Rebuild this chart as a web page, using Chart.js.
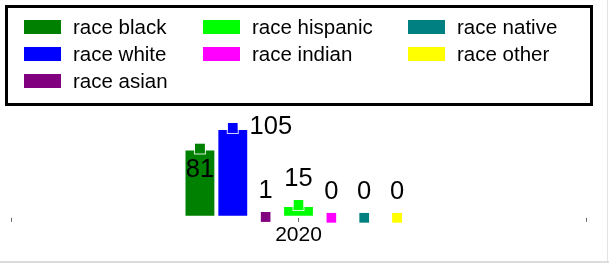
<!DOCTYPE html>
<html>
<head>
<meta charset="utf-8">
<script src="https://cdn.jsdelivr.net/npm/chart.js@4"></script>
<style>
  html, body { margin: 0; padding: 0; background: #fff; }
  #wrap { position: relative; width: 609px; height: 263px; overflow: hidden; font-family: "Liberation Sans", Arial, sans-serif; }
  #wrap canvas { position: absolute; left: 0; top: 0; }
  #legend {
    position: absolute; left: 5px; top: 5px; width: 588px; height: 101px;
    box-sizing: border-box; border: 3px solid #000;
    padding: 6px 0 0 16px;
    display: grid;
    grid-template-rows: repeat(3, 26.8px);
    grid-template-columns: 179px 205px auto;
  }
  .item { display: flex; align-items: center; font-size: 20.5px; color: #000; white-space: nowrap; }
  .swatch { width: 37px; height: 14px; margin-right: 12px; box-sizing: border-box; }
  #edgeR { position: absolute; left: 607px; top: 0; width: 1px; height: 263px; background: #e4e4e4; }
  #edgeB { position: absolute; left: 0; top: 261px; width: 609px; height: 2px; background: #dcdcdc; }
</style>
</head>
<body>
<div id="wrap">
  <canvas id="chart1" width="609" height="263"></canvas>
  <div id="legend"></div>
  <div id="edgeR"></div>
  <div id="edgeB"></div>
</div>
<script>
// data
var years = ['2020'];
var race_names = ['race black', 'race white', 'race asian', 'race hispanic', 'race indian', 'race native', 'race other'];
var race_counts = [81, 105, 1, 15, 0, 0, 0];
var race_colors = ['#008000', '#0000ff', '#800080', '#00ff00', '#ff00ff', '#008080', '#ffff00'];

var datasets = [];
for (var i = 0; i < race_names.length; i++) {
	datasets.push({
		label: race_names[i],
		data: [race_counts[i]],
		backgroundColor: race_colors[i],
		borderColor: '#ffffff',
		borderWidth: 2,
		borderSkipped: false,
		barPercentage: 1,
		categoryPercentage: 0.4
	});
}

// where each value label goes, relative to its bar top
var labelShift = {0: [0, 19], 1: [38, -2.5]};

var markersAndLabels = {
	id: 'markersAndLabels',
	afterDatasetsDraw: function(chart) {
		var ctx = chart.ctx;
		ctx.save();
		chart.data.datasets.forEach(function(ds, di) {
			var meta = chart.getDatasetMeta(di);
			meta.data.forEach(function(bar, j) {
				// square marker on the value
				ctx.fillStyle = ds.backgroundColor;
				ctx.fillRect(bar.x - 5, bar.y - 5, 10, 10);
				ctx.strokeStyle = 'rgba(255,255,255,0.85)';
				ctx.lineWidth = 1;
				ctx.strokeRect(bar.x - 5.5, bar.y - 5.5, 11, 11);
				// value label
				var s = labelShift[di] || [0, -28];
				ctx.fillStyle = '#000';
				ctx.font = '25.5px "Liberation Sans", Arial, sans-serif';
				ctx.textAlign = 'center';
				ctx.textBaseline = 'alphabetic';
				ctx.fillText(String(ds.data[j]), bar.x + s[0], bar.y + s[1] + 9);
			});
		});
		ctx.restore();
	},
	afterDraw: function(chart) {
		// small ticks at both ends of the x axis
		var ctx = chart.ctx, a = chart.chartArea;
		ctx.save();
		ctx.strokeStyle = '#666';
		ctx.lineWidth = 1;
		[a.left, a.right].forEach(function(x) {
			ctx.beginPath();
			ctx.moveTo(Math.round(x) + 0.5, a.bottom);
			ctx.lineTo(Math.round(x) + 0.5, a.bottom + 4);
			ctx.stroke();
		});
		ctx.restore();
	}
};

var ctx = document.getElementById('chart1');
var myChart = new Chart(ctx, {
	type: 'bar',
	data: {
		labels: years,
		datasets: datasets
	},
	options: {
		responsive: false,
		animation: false,
		layout: { padding: { top: 110, left: 11, right: 23, bottom: 14 } },
		plugins: {
			legend: { display: false },
			tooltip: { enabled: false }
		},
		scales: {
			x: {
				offset: true,
				border: { display: false },
				grid: { offset: false, drawOnChartArea: false, drawTicks: true, tickLength: 4, color: '#666' },
				ticks: { color: '#000', padding: 1, font: { family: '"Liberation Sans", Arial, sans-serif', size: 21 } }
			},
			y: {
				display: false,
				min: 0,
				max: 126
			}
		}
	},
	plugins: [markersAndLabels]
});

// legend box: 3 items in the first column, then 2 per column
var legend = document.getElementById('legend');
var colStart = [0, 3, 5];
myChart.data.datasets.forEach(function(ds, i) {
	var col = i < 3 ? 0 : (i < 5 ? 1 : 2);
	var item = document.createElement('div');
	item.className = 'item';
	item.style.gridColumn = String(col + 1);
	item.style.gridRow = String(i - colStart[col] + 1);
	var sw = document.createElement('span');
	sw.className = 'swatch';
	sw.style.background = ds.backgroundColor;
	item.appendChild(sw);
	item.appendChild(document.createTextNode(ds.label));
	legend.appendChild(item);
});
</script>
</body>
</html>
